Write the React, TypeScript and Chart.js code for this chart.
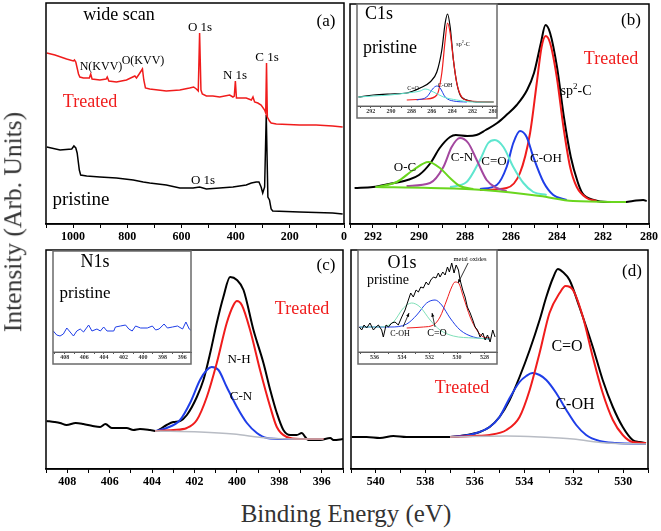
import React, { useEffect, useRef } from "react";
import { Chart, registerables } from "chart.js";

Chart.register(...registerables);

type Pt = [number, number];

const SERIF = '"Liberation Serif", "Times New Roman", serif';
const RED = "#f01c1c";
const BLUE = "#1f3ee8";
const PURPLE = "#a3479f";
const CYAN = "#5fe6cf";
const GREEN = "#6ad61e";
const GRAY = "#b8bcc4";
const BLACK = "#000000";
const MINT = "#7fe0b8";

// ---------- (a) wide scan : [binding energy eV, intensity a.u.] ----------
const wideTreated: Pt[] = [
  [1097, 171], [1067, 169], [1024, 165], [999, 163], [995, 164], [990, 162], [985, 156], [980, 150],
  [975, 147], [962, 146], [940, 146], [935, 150], [930, 145], [901, 144], [878, 145], [874, 147],
  [868, 143], [840, 142], [803, 144], [772, 148], [766, 146], [756, 150], [744, 155], [739, 144],
  [733, 136], [717, 135], [656, 133], [606, 134], [570, 136], [555, 137], [545, 135], [538, 133],
  [533, 191], [528, 134], [523, 130], [508, 128], [484, 128], [459, 127], [422, 129], [410, 127],
  [405, 128], [401, 143], [397, 126], [361, 126], [342, 124], [336, 127], [330, 122], [318, 121],
  [306, 119], [293, 114], [289, 111], [286, 161], [283, 107], [275, 103], [269, 101], [250, 100],
  [164, 99], [103, 99], [42, 98], [5, 97],
];
const widePristine: Pt[] = [
  [1097, 77], [1048, 74], [1005, 75], [997, 78], [990, 76], [985, 71], [977, 54], [972, 49],
  [950, 48], [901, 47], [840, 46], [778, 44], [741, 42], [717, 41], [656, 39], [606, 36],
  [557, 36], [533, 37], [508, 35], [410, 37], [361, 39], [342, 41], [324, 42], [314, 42],
  [306, 37], [300, 31], [293, 37], [287, 109], [281, 27], [275, 24], [269, 15], [263, 13],
  [164, 12], [42, 11], [5, 10],
];

// ---------- (b) C1s treated ----------
const c1sEnvelope: Pt[] = [
  [292.8, 36], [292.0, 37], [291.3, 40], [290.5, 44], [290.0, 49], [289.5, 61], [289.1, 76],
  [288.65, 87], [288.4, 89], [287.9, 88], [287.5, 89], [287.1, 94], [286.6, 101], [286.2, 109],
  [285.75, 119], [285.3, 134], [285.0, 151], [284.7, 181], [284.5, 199], [284.3, 191], [284.0, 157],
  [283.7, 107], [283.4, 67], [283.1, 42], [282.9, 31], [282.4, 24], [281.8, 22], [281.1, 22],
  [280.7, 23], [280.25, 24], [280.1, 23],
];
const c1sBaseline: Pt[] = [[291.9, 37], [289.5, 36], [287.2, 34], [284.74, 28], [283.3, 23], [281.0, 22]];
const c1sOC: Pt[] = [[291.84, 37], [290.97, 42], [290.25, 54], [289.59, 62], [289.09, 56], [288.65, 46], [288.22, 38], [287.64, 35]];
const c1sCN: Pt[] = [[290.54, 38], [289.52, 41], [288.94, 57], [288.58, 77], [288.22, 86], [287.86, 81], [287.49, 64], [287.06, 44], [286.62, 36], [286.19, 33]];
const c1sCO: Pt[] = [[288.65, 37], [287.93, 42], [287.35, 64], [286.99, 81], [286.7, 84], [286.33, 77], [285.9, 57], [285.46, 41], [285.03, 32], [284.45, 29]];
const c1sCOH: Pt[] = [[287.35, 35], [286.62, 39], [286.19, 57], [285.9, 81], [285.61, 93], [285.32, 87], [285.03, 67], [284.59, 42], [284.16, 29], [283.58, 24]];
const c1sSp2: Pt[] = [[287.35, 34], [286.19, 36], [285.61, 51], [285.17, 91], [284.88, 141], [284.67, 177], [284.49, 188], [284.3, 181], [284.01, 147], [283.72, 97], [283.43, 57], [283.14, 37], [282.71, 26], [282.28, 23]];

// (b) inset: C1s pristine
const c1sPristine: Pt[] = [[293.22, 9], [291.74, 11], [290.1, 12], [288.46, 13], [287.15, 18], [286.17, 24], [285.51, 34], [285.02, 56], [284.69, 83], [284.46, 92], [284.2, 79], [283.88, 46], [283.55, 23], [283.22, 11], [282.56, 6], [281.25, 4], [279.94, 4]];
const c1sPristineSp2: Pt[] = [[288.46, 6], [286.5, 7], [285.51, 11], [285.02, 33], [284.69, 66], [284.46, 83], [284.2, 73], [283.88, 46], [283.55, 23], [283.06, 9], [282.24, 5], [279.94, 4]];
const c1sPristineCOH: Pt[] = [[287.48, 6], [286.5, 9], [285.84, 18], [285.51, 20], [285.19, 18], [284.69, 9], [283.88, 5], [282.56, 4]];
const c1sPristineCO: Pt[] = [[293.22, 9], [291.74, 10], [290.1, 11], [288.46, 13], [287.15, 15], [286.66, 17], [285.84, 14], [284.86, 9], [283.55, 6], [281.91, 4], [279.94, 4]];

// ---------- (c) N1s treated ----------
const n1sEnvelope: Pt[] = [
  [408.97, 48], [408.6, 47], [408.34, 46], [408.03, 44], [407.6, 46], [407.24, 45], [406.8, 43], [406.45, 42],
  [406.2, 45], [405.9, 41], [405.67, 41], [405.2, 41], [404.88, 39], [404.57, 40], [404.09, 39], [403.78, 38],
  [403.62, 40], [403.31, 44], [403.0, 47], [402.68, 48], [402.36, 54], [401.89, 72], [401.58, 89], [401.26, 116],
  [400.95, 146], [400.64, 172], [400.32, 192], [400.0, 189], [399.69, 179], [399.22, 139], [398.75, 106],
  [398.43, 79], [398.12, 56], [397.81, 39], [397.49, 34], [397.18, 34], [396.94, 36], [396.78, 32], [396.63, 29],
  [396.08, 29], [395.6, 31], [395.45, 29], [394.97, 30],
];
const n1sNH: Pt[] = [[403.86, 38], [403.0, 39], [402.36, 41], [401.89, 49], [401.42, 72], [400.95, 106], [400.48, 146], [400.16, 164], [400.0, 168], [399.77, 164], [399.38, 139], [398.91, 99], [398.43, 62], [398.12, 42], [397.65, 32], [397.02, 30], [395.92, 30]];
const n1sCN: Pt[] = [[403.86, 38], [403.31, 41], [402.68, 49], [402.21, 66], [401.74, 89], [401.42, 99], [401.19, 102], [400.87, 99], [400.48, 82], [400.0, 62], [399.53, 46], [399.06, 36], [398.59, 31], [397.81, 30], [396.23, 30]];
const n1sBase: Pt[] = [[403.86, 38], [401.74, 37], [400.16, 35], [398.59, 31], [397.02, 30], [395.92, 30]];

// (c) inset: N1s pristine
const n1sPristine: Pt[] = [
  [409.17, 21], [408.82, 17], [408.48, 16], [408.14, 18], [407.79, 24], [407.45, 20], [407.11, 16], [406.77, 21],
  [406.42, 23], [406.08, 20], [405.56, 27], [405.22, 21], [404.71, 23], [404.36, 21], [404.02, 25], [403.68, 21],
  [402.99, 21], [402.82, 25], [402.31, 26], [401.79, 27], [401.45, 23], [401.11, 21], [400.76, 26], [400.25, 24],
  [399.56, 24], [399.05, 26], [398.71, 22], [398.36, 23], [397.85, 28], [397.51, 24], [396.99, 25], [396.48, 26],
  [395.96, 23], [395.62, 30], [395.28, 23], [395.0, 21],
];

// ---------- (d) O1s treated ----------
const o1sEnvelope: Pt[] = [
  [540.97, 32], [540.37, 32], [539.83, 31], [539.29, 33], [538.76, 32], [538.08, 32], [537.41, 32], [537.0, 32],
  [536.34, 34], [535.8, 37], [535.4, 42], [535.0, 52], [534.59, 69], [534.19, 92], [533.78, 119], [533.38, 149],
  [533.11, 172], [532.84, 191], [532.64, 200], [532.44, 197], [532.17, 189], [531.77, 162], [531.23, 122],
  [530.83, 89], [530.42, 62], [530.02, 42], [529.62, 29], [529.35, 27], [529.08, 26],
];
const o1sCO: Pt[] = [[537.0, 32], [536.07, 33], [535.4, 34], [534.72, 39], [534.19, 52], [533.78, 79], [533.38, 116], [532.98, 156], [532.57, 176], [532.33, 183], [532.03, 179], [531.63, 152], [531.23, 112], [530.83, 76], [530.42, 49], [530.02, 34], [529.62, 27], [529.08, 26]];
const o1sCOH: Pt[] = [[537.0, 32], [536.07, 35], [535.4, 42], [535.0, 52], [534.59, 71], [534.19, 87], [533.92, 93], [533.67, 96], [533.38, 94], [533.11, 89], [532.71, 76], [532.3, 59], [531.9, 44], [531.5, 34], [530.96, 28], [530.29, 26], [529.08, 25]];
const o1sBase: Pt[] = [[537.0, 32], [534.72, 33], [533.38, 32], [532.03, 30], [530.69, 26], [529.08, 25]];

// (d) inset: O1s pristine
const o1sPristine: Pt[] = [
  [537.1, 25], [536.93, 22], [536.76, 27], [536.57, 24], [536.33, 29], [536.08, 22], [535.89, 25], [535.72, 27],
  [535.48, 22], [535.36, 15], [535.16, 27], [534.99, 25], [534.75, 29], [534.51, 30], [534.27, 27], [534.02, 35],
  [533.78, 42], [533.54, 52], [533.37, 59], [533.18, 55], [532.98, 62], [532.81, 60], [532.64, 65], [532.45, 64],
  [532.25, 70], [532.08, 67], [531.91, 72], [531.72, 75], [531.53, 74], [531.36, 79], [531.24, 75], [531.04, 80],
  [530.87, 77], [530.7, 85], [530.56, 80], [530.39, 89], [530.22, 79], [530.07, 87], [529.9, 82], [529.78, 72],
  [529.59, 62], [529.42, 55], [529.25, 45], [529.05, 39], [528.86, 32], [528.69, 25], [528.52, 22], [528.33, 15],
  [528.13, 19], [527.96, 12], [527.79, 17], [527.6, 10], [527.41, 22], [527.24, 15],
];
const o1sPristineMetal: Pt[] = [[533.66, 24], [532.45, 25], [531.72, 27], [531.24, 35], [530.75, 52], [530.39, 65], [530.15, 70], [529.9, 69], [529.54, 55], [529.05, 35], [528.57, 22], [528.08, 15], [527.6, 14]];
const o1sPristineCO: Pt[] = [[537.1, 25], [535.6, 25], [534.87, 25], [533.66, 28], [532.93, 37], [532.21, 49], [531.6, 52], [531.12, 47], [530.51, 34], [529.78, 22], [528.81, 15], [527.6, 13]];
const o1sPristineCOH: Pt[] = [[537.05, 25], [535.6, 25], [534.63, 30], [533.9, 44], [533.3, 49], [532.69, 45], [531.96, 32], [531.24, 22], [530.27, 16], [528.81, 14], [527.6, 13]];

// arrows in the O1s inset (data coordinates: tail, head)
const o1sInsetArrows: [Pt, Pt][] = [
  [[529.2, 89], [529.93, 69]],
  [[533.93, 25], [533.49, 39]],
  [[531.6, 25], [531.82, 39]],
];

interface SeriesSpec { data: Pt[]; color: string; width: number; smooth?: boolean }
interface PlotSpec {
  left: number; top: number; width: number; height: number;
  xMin: number; xMax: number; yMax: number; step: number; labelEvery: number;
  series: SeriesSpec[]; inset?: boolean; arrows?: [Pt, Pt][];
}

function Plot({ spec }: { spec: PlotSpec }) {
  const ref = useRef<HTMLCanvasElement>(null);
  const inset = !!spec.inset;
  const M = inset ? 8 : 22;
  const T = inset ? 1 : 3;
  const axisH = inset ? 12 : 22;
  const B = inset ? 2 : 0;
  const cw = spec.width + 2 * M;
  const ch = T + spec.height + axisH + B;

  useEffect(() => {
    const framePlugin = {
      id: "frame",
      beforeDraw(chart: any) {
        if (!inset) return;
        const { left, top, right, bottom } = chart.chartArea;
        const ctx = chart.ctx;
        ctx.save();
        ctx.fillStyle = "#ffffff";
        ctx.fillRect(left, top, right - left, bottom - top + axisH);
        ctx.restore();
      },
      afterDraw(chart: any) {
        const { left, top, right, bottom } = chart.chartArea;
        const ctx = chart.ctx;
        ctx.save();
        if (inset) {
          ctx.strokeStyle = "#6a6a6a";
          ctx.lineWidth = 1.5;
          ctx.strokeRect(left, top, right - left, bottom - top + axisH);
          ctx.lineWidth = 1;
          ctx.beginPath();
          ctx.moveTo(left, bottom);
          ctx.lineTo(right, bottom);
          ctx.stroke();
        } else {
          ctx.strokeStyle = "#000";
          ctx.lineWidth = 1.5;
          ctx.strokeRect(left, top, right - left, bottom - top);
        }
        if (spec.arrows) {
          const xs = chart.scales.x;
          const ys = chart.scales.y;
          ctx.strokeStyle = "#000";
          ctx.fillStyle = "#000";
          ctx.lineWidth = 0.8;
          for (const [a, b] of spec.arrows) {
            const x1 = xs.getPixelForValue(a[0]);
            const y1 = ys.getPixelForValue(a[1]);
            const x2 = xs.getPixelForValue(b[0]);
            const y2 = ys.getPixelForValue(b[1]);
            ctx.beginPath();
            ctx.moveTo(x1, y1);
            ctx.lineTo(x2, y2);
            ctx.stroke();
            const ang = Math.atan2(y2 - y1, x2 - x1);
            const L = 4;
            ctx.beginPath();
            ctx.moveTo(x2, y2);
            ctx.lineTo(x2 - L * Math.cos(ang - 0.4), y2 - L * Math.sin(ang - 0.4));
            ctx.lineTo(x2 - L * Math.cos(ang + 0.4), y2 - L * Math.sin(ang + 0.4));
            ctx.closePath();
            ctx.fill();
          }
        }
        ctx.restore();
      },
    };

    const chart = new Chart(ref.current as HTMLCanvasElement, {
      type: "line",
      data: {
        datasets: spec.series.map((s) => ({
          data: s.data.map(([x, y]) => ({ x, y })),
          borderColor: s.color,
          borderWidth: s.width,
          pointRadius: 0,
          fill: false,
          tension: s.smooth ? 0.4 : 0,
          cubicInterpolationMode: s.smooth ? "monotone" : "default",
        })),
      } as any,
      options: {
        responsive: false,
        animation: false,
        devicePixelRatio: 1,
        events: [],
        layout: { padding: { left: M, right: M, top: T, bottom: B } },
        plugins: { legend: { display: false }, tooltip: { enabled: false } },
        scales: {
          x: {
            type: "linear",
            reverse: true,
            min: spec.xMin,
            max: spec.xMax,
            afterFit: (scale: any) => { scale.height = axisH; },
            ticks: {
              stepSize: spec.step,
              includeBounds: false,
              autoSkip: false,
              maxRotation: 0,
              padding: inset ? 0 : 2,
              color: inset ? "#333" : "#000",
              font: { family: SERIF, size: inset ? 6 : 12, weight: "bold" },
              callback: (v: any) => {
                const n = Math.round(Number(v));
                return n % spec.labelEvery === 0 ? String(n) : "";
              },
            },
            grid: {
              drawOnChartArea: false,
              drawTicks: true,
              tickLength: inset ? 2 : 4,
              color: inset ? "#555" : "#000",
              lineWidth: 1,
            },
            border: { display: true, color: inset ? "#555" : "#000", width: inset ? 1 : 1.5 },
          },
          y: { display: false, min: 0, max: spec.yMax },
        },
      } as any,
      plugins: [framePlugin],
    });
    return () => chart.destroy();
  }, []);

  return (
    <canvas
      ref={ref}
      width={cw}
      height={ch}
      style={{ position: "absolute", left: spec.left - M, top: spec.top - T, width: cw, height: ch, display: "block" }}
    />
  );
}

function Label({ x, y, size, color = "#000", children, rotate }: { x: number; y: number; size: number; color?: string; children: any; rotate?: boolean }) {
  return (
    <div
      style={{
        position: "absolute",
        left: x,
        top: y,
        transform: `translate(-50%, -50%)${rotate ? " rotate(-90deg)" : ""}`,
        fontFamily: SERIF,
        fontSize: size,
        color,
        whiteSpace: "nowrap",
        lineHeight: 1,
      }}
    >
      {children}
    </div>
  );
}

const panelA: PlotSpec = {
  left: 46, top: 3, width: 298, height: 221, xMin: 0, xMax: 1100, yMax: 221, step: 100, labelEvery: 200,
  series: [
    { data: wideTreated, color: RED, width: 1.5 },
    { data: widePristine, color: BLACK, width: 1.5 },
  ],
};
const panelB: PlotSpec = {
  left: 350, top: 4, width: 299, height: 220, xMin: 280, xMax: 293, yMax: 220, step: 1, labelEvery: 2,
  series: [
    { data: c1sBaseline, color: GREEN, width: 2, smooth: true },
    { data: c1sOC, color: GREEN, width: 2, smooth: true },
    { data: c1sCN, color: PURPLE, width: 2, smooth: true },
    { data: c1sCO, color: CYAN, width: 2, smooth: true },
    { data: c1sCOH, color: BLUE, width: 2, smooth: true },
    { data: c1sSp2, color: RED, width: 2, smooth: true },
    { data: c1sEnvelope, color: BLACK, width: 2, smooth: true },
  ],
};
const insetB: PlotSpec = {
  left: 357, top: 4, width: 140, height: 102, xMin: 279.6, xMax: 293.35, yMax: 102, step: 1, labelEvery: 2, inset: true,
  series: [
    { data: c1sPristineCO, color: CYAN, width: 1, smooth: true },
    { data: c1sPristineCOH, color: BLUE, width: 1, smooth: true },
    { data: c1sPristineSp2, color: RED, width: 1.2, smooth: true },
    { data: c1sPristine, color: BLACK, width: 1.2, smooth: true },
  ],
};
const panelC: PlotSpec = {
  left: 46, top: 250, width: 297, height: 219, xMin: 395, xMax: 409, yMax: 219, step: 1, labelEvery: 2,
  series: [
    { data: n1sBase, color: GRAY, width: 1.5, smooth: true },
    { data: n1sNH, color: RED, width: 2, smooth: true },
    { data: n1sCN, color: BLUE, width: 2, smooth: true },
    { data: n1sEnvelope, color: BLACK, width: 2, smooth: true },
  ],
};
const insetC: PlotSpec = {
  left: 53, top: 251, width: 138, height: 101, xMin: 395.1, xMax: 409.2, yMax: 101, step: 1, labelEvery: 2, inset: true,
  series: [{ data: n1sPristine, color: BLUE, width: 1 }],
};
const panelD: PlotSpec = {
  left: 351, top: 250, width: 297, height: 219, xMin: 529, xMax: 541, yMax: 219, step: 1, labelEvery: 2,
  series: [
    { data: o1sBase, color: GRAY, width: 1.5, smooth: true },
    { data: o1sCO, color: RED, width: 2, smooth: true },
    { data: o1sCOH, color: BLUE, width: 2, smooth: true },
    { data: o1sEnvelope, color: BLACK, width: 2, smooth: true },
  ],
};
const insetD: PlotSpec = {
  left: 358, top: 250, width: 139, height: 102, xMin: 527.1, xMax: 537.2, yMax: 102, step: 1, labelEvery: 2, inset: true,
  series: [
    { data: o1sPristine, color: BLACK, width: 1 },
    { data: o1sPristineCOH, color: MINT, width: 1, smooth: true },
    { data: o1sPristineCO, color: BLUE, width: 1, smooth: true },
    { data: o1sPristineMetal, color: RED, width: 1, smooth: true },
  ],
  arrows: o1sInsetArrows,
};

export default function App() {
  return (
    <div style={{ position: "absolute", left: 0, top: 0, width: 661, height: 531, background: "#fff", overflow: "hidden" }}>
      <Plot spec={panelA} />
      <Plot spec={panelB} />
      <Plot spec={panelC} />
      <Plot spec={panelD} />

      {/* (a) */}
      <Label x={119} y={14} size={18}>wide scan</Label>
      <Label x={326} y={20} size={17}>(a)</Label>
      <Label x={200} y={26} size={13}>O 1s</Label>
      <Label x={101} y={66} size={12}>N(KVV)</Label>
      <Label x={143} y={60} size={12}>O(KVV)</Label>
      <Label x={235} y={74} size={13}>N 1s</Label>
      <Label x={267} y={56} size={13}>C 1s</Label>
      <Label x={90} y={101} size={18} color={RED}>Treated</Label>
      <Label x={203} y={179} size={13}>O 1s</Label>
      <Label x={81} y={198} size={19}>pristine</Label>

      {/* (b) */}
      <Label x={631} y={19} size={17}>(b)</Label>
      <Label x={611} y={58} size={18} color={RED}>Treated</Label>
      <Label x={576} y={90} size={14}>sp<sup style={{ fontSize: 9 }}>2</sup>-C</Label>
      <Label x={546} y={157} size={13}>C-OH</Label>
      <Label x={494} y={160} size={13}>C=O</Label>
      <Label x={462} y={156} size={13}>C-N</Label>
      <Label x={405} y={166} size={13}>O-C</Label>

      {/* (c) */}
      <Label x={326} y={264} size={17}>(c)</Label>
      <Label x={302} y={308} size={18} color={RED}>Treated</Label>
      <Label x={239} y={358} size={13}>N-H</Label>
      <Label x={241} y={395} size={13}>C-N</Label>

      {/* (d) */}
      <Label x={632} y={270} size={17}>(d)</Label>
      <Label x={462} y={387} size={18} color={RED}>Treated</Label>
      <Label x={567} y={346} size={16}>C=O</Label>
      <Label x={575} y={404} size={16}>C-OH</Label>

      <Plot spec={insetB} />
      <Plot spec={insetC} />
      <Plot spec={insetD} />

      <Label x={379} y={13} size={18}>C1s</Label>
      <Label x={390} y={47} size={18}>pristine</Label>
      <Label x={463} y={43} size={6}>sp<sup style={{ fontSize: 4 }}>2</sup>-C</Label>
      <Label x={413} y={88} size={6}>C=O</Label>
      <Label x={445} y={85} size={6}>C-OH</Label>

      <Label x={95} y={261} size={18}>N1s</Label>
      <Label x={85} y={292} size={17}>pristine</Label>

      <Label x={402} y={262} size={18}>O1s</Label>
      <Label x={388} y={280} size={14}>pristine</Label>
      <Label x={470} y={259} size={6.5}>metal oxides</Label>
      <Label x={400} y={334} size={8}>C-OH</Label>
      <Label x={437} y={333} size={10}>C=O</Label>

      <Label x={13} y={222} size={25.5} color="#333" rotate>Intensity (Arb. Units)</Label>
      <Label x={346} y={513} size={25} color="#333">Binding Energy (eV)</Label>
    </div>
  );
}
